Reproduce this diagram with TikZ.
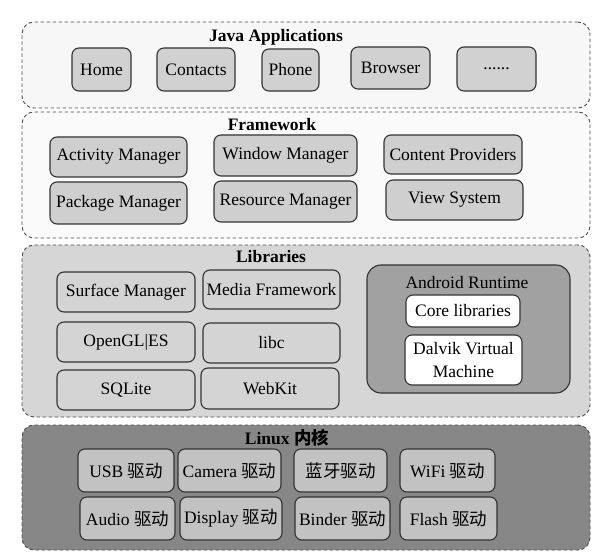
\documentclass[tikz,border=0pt]{standalone}
\usepackage{fontspec}
\setmainfont{Liberation Serif}
\newfontfamily\cjk{Noto Sans CJK SC}
\newcommand\itemfont{\fontsize{17.5}{19.5}\selectfont}
\newcommand\boxat[7]{%
  \node[#2, minimum width={(#5-#3)*1pt}, minimum height={(#6-#4)*1pt}]
    (#1) at ({(#3+#5)/2},{(#4+#6)/2}) {#7};}
\begin{document}
\begin{tikzpicture}[x=1pt,y=-1pt,
  layer/.style={draw=black!70, dash pattern=on 3.5pt off 2.5pt, line width=0.9pt,
    rounded corners=12pt, inner sep=0pt},
  item/.style={draw=black!80, line width=1.1pt, rounded corners=7pt, inner sep=0pt,
    align=center, font=\itemfont},
  ttl/.style={inner sep=0pt, font=\itemfont\bfseries},
  javaitem/.style={item, fill=black!18},
  fwitem/.style={item, fill=black!19},
  libitem/.style={item, fill=black!17},
  rtitem/.style={item, fill=white},
  lxitem/.style={item, fill=black!24},
]
\useasboundingbox (0,0) rectangle (614,559);
% layers
\boxat{java}{layer, fill=black!3}{22}{22}{590}{108}{}
\boxat{fw}{layer, fill=black!2}{22}{112}{590}{238}{}
\boxat{lib}{layer, fill=black!16}{22}{245}{590}{417}{}
\boxat{lx}{layer, fill=black!47}{22}{425}{590}{550}{}
% titles
\node[ttl] (javat) at (276,37) {Java Applications};
\node[ttl] (fwt) at (272,125) {Framework};
\node[ttl] (libt) at (271,257) {Libraries};
\node[ttl] (lxt) at (287,438) {Linux {\cjk 内核}};
% Java applications
\boxat{home}{javaitem}{72}{48}{131}{91}{Home}
\boxat{contacts}{javaitem}{157}{48}{235}{91}{Contacts}
\boxat{phone}{javaitem}{262}{49}{319}{91}{Phone}
\boxat{browser}{javaitem}{351}{47}{430}{89}{Browser}
\boxat{more}{javaitem}{457}{47}{536}{91}{......}
% Framework
\boxat{am}{fwitem}{50}{137}{187}{177}{Activity Manager}
\boxat{wm}{fwitem}{214}{135}{357}{176}{Window Manager}
\boxat{cp}{fwitem}{384}{135}{522}{174}{Content Providers}
\boxat{pm}{fwitem}{50}{182}{187}{224}{Package Manager}
\boxat{rm}{fwitem}{214}{181}{357}{222}{Resource Manager}
\boxat{vs}{fwitem}{386}{180}{523}{220}{View System}
% Libraries
\boxat{sm}{libitem}{57}{272}{195}{312}{Surface Manager}
\boxat{mf}{libitem}{203}{270}{340}{309}{Media Framework}
\boxat{gl}{libitem}{57}{322}{195}{362}{OpenGL|ES}
\boxat{libc}{libitem}{203}{323}{340}{363}{libc}
\boxat{sql}{libitem}{57}{370}{195}{410}{SQLite}
\boxat{wk}{libitem}{201}{368}{339}{409}{WebKit}
% Android runtime
\boxat{rt}{item, fill=black!37, rounded corners=14pt}{367}{265}{570}{393}{}
\node[inner sep=0pt, font=\itemfont] (rtt) at (467,283) {Android Runtime};
\boxat{core}{rtitem}{406}{295}{520}{327}{Core libraries}
\boxat{dvm}{rtitem, font=\fontsize{17.5}{23.5}\selectfont}{405}{335}{522}{385}{Dalvik Virtual\\Machine}
% Linux kernel
\boxat{usb}{lxitem}{78}{449}{174}{492}{USB {\cjk 驱动}}
\boxat{cam}{lxitem}{178}{449}{281}{492}{Camera {\cjk 驱动}}
\boxat{bt}{lxitem}{294}{449}{387}{492}{{\cjk 蓝牙驱动}}
\boxat{wifi}{lxitem}{400}{449}{495}{492}{WiFi {\cjk 驱动}}
\boxat{audio}{lxitem}{80}{497}{175}{540}{Audio {\cjk 驱动}}
\boxat{disp}{lxitem}{180}{497}{282}{540}{Display {\cjk 驱动}}
\boxat{binder}{lxitem}{295}{497}{390}{540}{Binder {\cjk 驱动}}
\boxat{flash}{lxitem}{400}{497}{497}{540}{Flash {\cjk 驱动}}
\end{tikzpicture}
\end{document}
